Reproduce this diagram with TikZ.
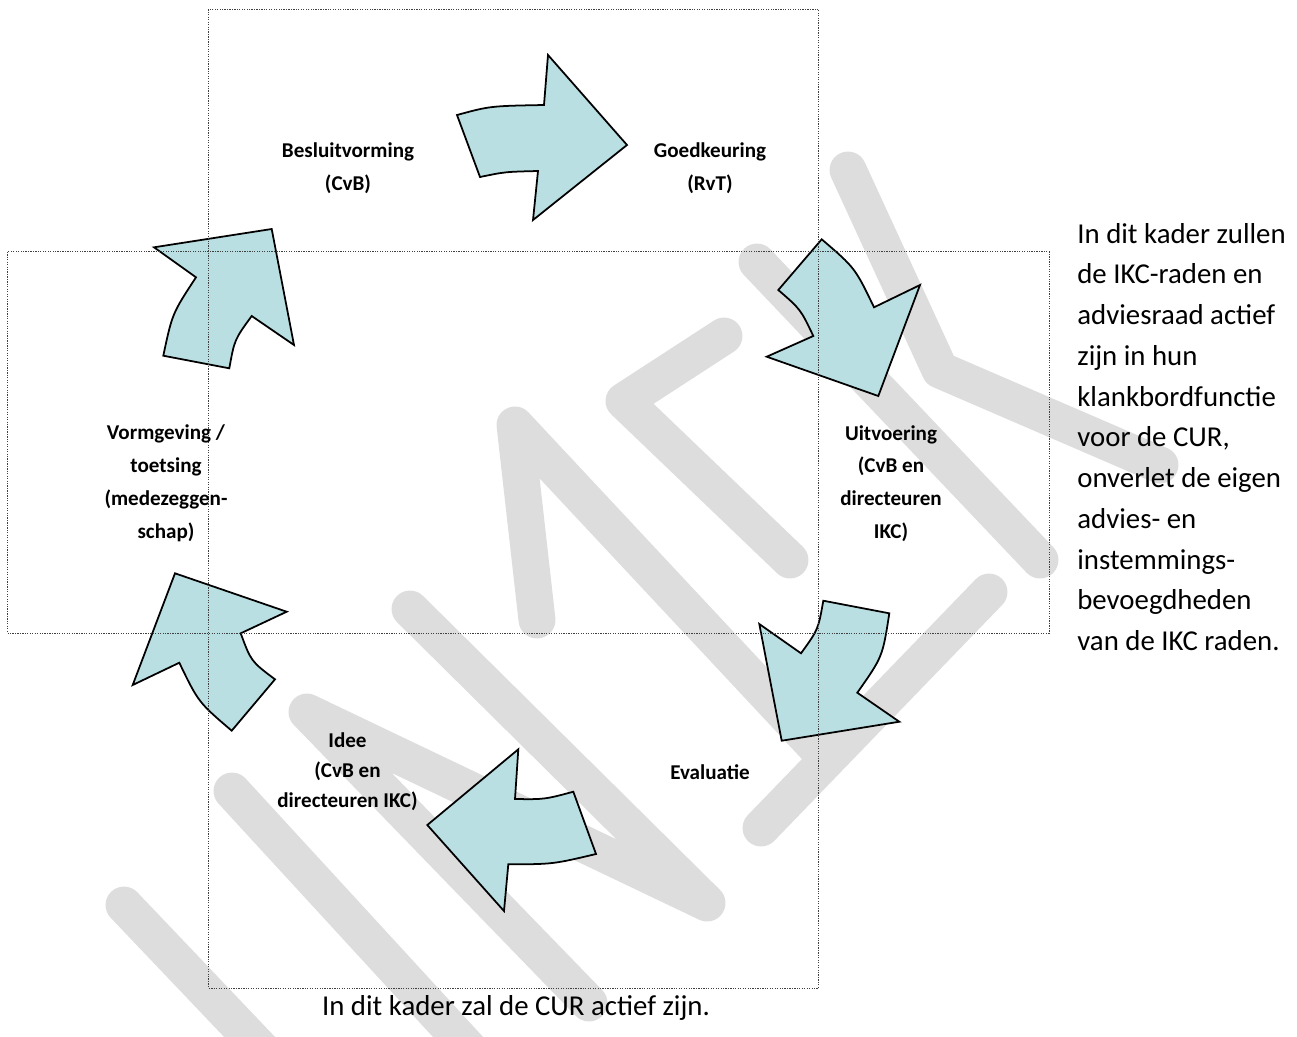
\documentclass[tikz,border=0pt]{standalone}
\usepackage{fontspec}
\setmainfont{Carlito}
\definecolor{arrowfill}{RGB}{185,223,227}
\definecolor{wmgrey}{RGB}{221,221,221}
\begin{document}
\begin{tikzpicture}[x=0.02cm,y=-0.02cm,
  arr/.style={fill=arrowfill, draw=black, line width=1pt, line join=miter},
  frame/.style={draw=black!75, line width=0.5pt, dash pattern=on 0.7pt off 0.7pt},
  wm/.style={draw=wmgrey, line width=21pt, line cap=round, line join=round},
  lbl/.style={font=\bfseries\fontsize{12}{18.7}\selectfont, align=center, inner sep=0pt},
  body/.style={font=\fontsize{16.4}{23.2}\selectfont, inner sep=0pt}]
\useasboundingbox[fill=white] (0,0) rectangle (1297,1036);

% watermark
\draw[wm] (124,905) -- (262,1050);
\draw[wm] (232,791) -- (470,1050);
\draw[wm] (589,1003) -- (307,712) -- (707,903) -- (410,609);
\draw[wm] (537,620) -- (515,425) -- (815,746);
\draw[wm] (757,262) -- (1040,560);
\draw[wm] (848,170) -- (940,370) -- (1160,465);
\draw[wm] (724,336) -- (624,401) -- (790,560);
\draw[wm] (989,592) -- (761,828);

% arrows
\path[arr] (457,115) .. controls (490,106) .. (544,105) -- (548,55) -- (627,145)
  -- (533,220) -- (538,171) .. controls (505,171.8) .. (480,177) -- cycle;
\path[arr] (821.7,239.3) .. controls (855,267.8) .. (874,307.3) -- (920,285)
  -- (878.3,396) -- (766.7,356.7) -- (813.3,336) .. controls (800.6,309.3) .. (778.3,290) -- cycle;
\path[arr] (823.3,600.7) -- (889.3,613.3) .. controls (882.6,656.7) .. (857.3,692.7)
  -- (899.3,721.7) -- (781.7,740.7) -- (759.3,624) -- (801,653.3)
  .. controls (818.2,629.5) .. (823.3,600.7) -- cycle;
\path[arr] (518.3,749.3) -- (515,799) .. controls (544.7,799.4) .. (573.3,791.7)
  -- (596,854) .. controls (552.8,864.2) .. (508.3,864.3) -- (504,911) -- (427.3,825) -- cycle;
\path[arr] (175,573.3) -- (286.7,611.7) -- (240.7,633.3) .. controls (251.1,661.4) .. (275,679.3)
  -- (231.7,730.7) .. controls (198.4,702.2) .. (179.3,662.7) -- (132.7,685) -- cycle;
\path[arr] (154,247.3) -- (271.7,229) -- (294,345) -- (251.7,316)
  .. controls (234.5,339.6) .. (229.3,368.3) -- (163.3,355.7)
  .. controls (172.3,313.4) .. (196,277.3) -- cycle;

% frames
\draw[frame] (208.6,9.3) rectangle (818.8,988);
\draw[frame] (7.5,251.8) rectangle (1049,633);

% labels
\node[lbl] (besl) at (348,168.5) {Besluitvorming\\(CvB)};
\node[lbl] (goed) at (710,168.5) {Goedkeuring\\(RvT)};
\node[lbl] (uitv) at (891,483.5) {Uitvoering\\(CvB en\\directeuren\\IKC)};
\node[lbl] (eval) at (710,772) {Evaluatie};
\node[lbl, font=\bfseries\fontsize{12}{17}\selectfont] (idee) at (347.5,772) {Idee\\(CvB en\\directeuren IKC)};
\node[lbl] (vorm) at (166,483.5) {Vormgeving /\\toetsing\\(medezeggen-\\schap)};

\node[body, align=left, anchor=west] (cur1) at (1077,437) {In dit kader zullen\\de IKC-raden en\\adviesraad actief\\zijn in hun\\klankbordfunctie\\voor de CUR,\\onverlet de eigen\\advies- en\\instemmings-\\bevoegdheden\\van de IKC raden.};
\node[body, anchor=base] (cur2) at (516,1015) {In dit kader zal de CUR actief zijn.};
\end{tikzpicture}
\end{document}
